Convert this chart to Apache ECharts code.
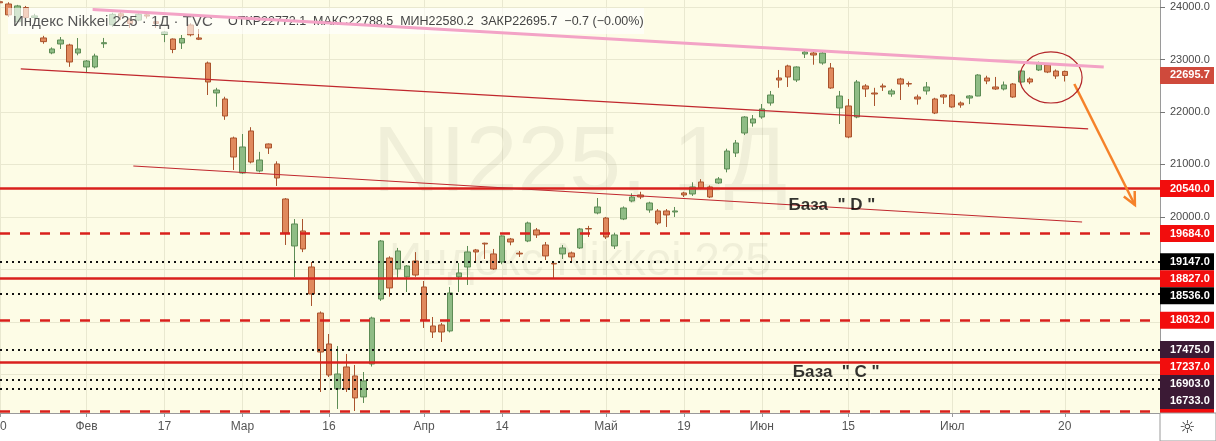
<!DOCTYPE html>
<html>
<head>
<meta charset="utf-8">
<script src="https://cdn.jsdelivr.net/npm/echarts@6/dist/echarts.min.js"></script>
<style>
  html, body { margin: 0; padding: 0; background: #fff; }
  #main { width: 1216px; height: 441px; }
</style>
</head>
<body>
<div id="main"></div>
<script>
// торговые дни 2020 (последние 11 — пустое место справа)
const dates = [
  '01-20','01-21','01-22','01-23','01-24','01-27','01-28','01-29','01-30','01-31',
  '02-03','02-04','02-05','02-06','02-07','02-10','02-12','02-13','02-14','02-17','02-18','02-19','02-20','02-21','02-25','02-26','02-27','02-28',
  '03-02','03-03','03-04','03-05','03-06','03-09','03-10','03-11','03-12','03-13','03-16','03-17','03-18','03-19','03-23','03-24','03-25','03-26','03-27','03-30','03-31',
  '04-01','04-02','04-03','04-06','04-07','04-08','04-09','04-10','04-13','04-14','04-15','04-16','04-17','04-20','04-21','04-22','04-23','04-24','04-27','04-28','04-30',
  '05-01','05-07','05-08','05-11','05-12','05-13','05-14','05-15','05-18','05-19','05-20','05-21','05-22','05-25','05-26','05-27','05-28','05-29',
  '06-01','06-02','06-03','06-04','06-05','06-08','06-09','06-10','06-11','06-12','06-15','06-16','06-17','06-18','06-19','06-22','06-23','06-24','06-25','06-26','06-29','06-30',
  '07-01','07-02','07-03','07-06','07-07','07-08','07-09','07-10','07-13','07-14','07-15','07-16','07-17','07-20',
  '07-21','07-22','07-27','07-28','07-29','07-30','07-31','08-03','08-04','08-05','08-06'
];

const opens = [
  24100,24057,23720,23990,23800,23410,23125,23295,23276,23123,
  22857,22857,23300,23660,23870,23760,23750,23850,23720,23480,23390,23314,23657,23410,22933,22362,22247,21504,
  20837,21638,20876,21390,21009,20342,19447,19733,19047,18170,17580,16723,17142,16971,16571,17199,18437,19218,19009,18857,19161,
  18666,17923,17942,17828,18857,19047,19371,19500,19295,19142,19580,19310,19542,19752,19466,19115,19295,19314,19409,19780,20076,
  19980,19447,19961,20304,20419,20133,20114,20114,20095,20457,20438,20666,20571,20647,20914,21218,21599,21790,
  21904,22171,22647,22876,22609,23104,23123,22933,22838,22076,22114,21904,22495,22361,22495,22342,22628,22540,22285,22400,22247,22323,
  22323,22171,22266,22304,22647,22476,22438,22533,22571,22628,22800,22895,22780,22772.1
];
const closes = [
  24080,23850,24020,23800,23830,23340,23200,23371,22952,23200,
  22971,23066,23320,23860,23827,23685,23861,23827,23687,23523,23190,23400,23470,23386,22571,22418,21923,21142,
  21333,21047,21085,21314,20742,19695,19866,19390,18532,17427,16989,17008,16723,16552,16876,18075,19542,18647,19352,19066,18894,
  18037,17808,17808,18552,18933,19333,19333,19485,19009,19638,19523,19295,19885,19657,19257,19104,19409,19238,19771,19771,20190,
  19618,19657,20171,20380,20380,20266,19885,20038,20114,20419,20571,20552,20380,20723,21256,21409,21904,21866,
  22057,22323,22609,22666,22857,23142,23085,23123,22457,22304,21523,22571,22438,22342,22476,22400,22533,22533,22247,22476,21980,22285,
  22095,22133,22304,22704,22590,22438,22514,22285,22780,22571,22933,22761,22685,22695.7
];
const lows = [
  24030,23810,23700,23760,23760,23300,23100,23200,22860,23080,
  22750,22830,23220,23620,23750,23600,23730,23780,23600,23330,23120,23200,23440,23370,22323,22100,21850,20895,
  20820,21020,20850,21200,20590,19466,18856,19330,18304,16665,16950,16342,16665,16303,16456,17150,18400,18480,18840,18570,18860,
  17885,17694,17618,17800,18571,18704,19142,19200,18990,19100,19460,19238,19520,19600,19180,18838,19200,19140,19390,19619,20050,
  19580,19390,19940,20280,20340,20080,19850,19809,20000,20380,20400,20530,20360,20630,20850,21142,21560,21720,
  21870,22120,22460,22476,22570,23028,22900,22900,22440,21771,21500,21880,22285,22114,22400,22290,22228,22480,22140,22330,21960,22152,
  22080,22080,22150,22300,22530,22420,22410,22270,22560,22530,22780,22740,22630,22580.2
];
const highs = [
  24120,24090,24040,24020,23870,23450,23230,23428,23300,23409,
  22990,23110,23410,23890,23900,23790,23880,23880,23750,23540,23400,23466,23690,23580,22960,22460,22290,21530,
  21580,21710,21240,21400,21060,20360,19960,19961,19140,18200,17770,17540,17390,17180,17046,18100,19560,19250,19410,19084,19330,
  18780,18094,17980,18666,19123,19447,19390,19510,19390,19650,19600,19352,19910,19790,19523,19140,19466,19340,19790,19830,20361,
  20000,19700,20200,20450,20480,20290,20150,20150,20190,20480,20660,20720,20600,20760,21300,21466,21920,21942,
  22152,22400,22800,22900,22870,23170,23140,23150,22933,22400,22247,22609,22530,22460,22540,22440,22650,22580,22330,22571,22270,22340,
  22340,22200,22320,22720,22690,22667,22580,22550,22800,22660,22960,22920,22810,22788.5
];

// подписи оси времени
const tickLabels = {
  '01-20': '20', '02-03': 'Фев', '02-17': '17', '03-02': 'Мар', '03-16': '16',
  '04-01': 'Апр', '04-14': '14', '05-01': 'Май', '05-19': '19', '06-01': 'Июн',
  '06-15': '15', '07-01': 'Июл', '07-20': '20'
};
const yTicks = [17000, 18000, 19000, 20000, 21000, 22000, 23000, 24000];
const yLabelTicks = [20000, 21000, 22000, 23000, 24000];

// горизонтальные уровни
const solidLevels = [20540, 18827, 17237];
const dashedLevels = [19684, 18032, 16303];
const blackDotLevels = [19147, 18536];
const purpleDotLevels = [17475, 16903, 16733];
const lastPrice = 22695.7;

// рисунки: [номер бара, цена]
const pinkLine = [[10.7, 23952], [127.5, 22857]];
const channelTop = [[2.4, 22819], [125.7, 21676]];
const channelBottom = [[15.4, 20971], [125.0, 19904]];
const arrowLine = [[124.1, 22533], [131.1, 20228]];
const circleMark = [121.4, 22657];
const circleRadius = [3.6, 486];
const baseD = [96.1, 20228];
const baseC = [96.6, 17046];

const header = 'Индекс Nikkei 225 · 1Д · TVC';
const ohlcText = 'ОТКР22772.1  МАКС22788.5  МИН22580.2  ЗАКР22695.7  −0.7 (−0.00%)';

const FONT = '"Liberation Sans", Arial, sans-serif';
const RED = '#d9201c';

const chart = echarts.init(document.getElementById('main'));

const candles = opens.map((o, i) => [o, closes[i], lows[i], highs[i]]);

const levelData = []
  .concat(solidLevels.map(v => ({ yAxis: v, lineStyle: { color: RED, width: 2.5, type: 'solid' } })))
  .concat(dashedLevels.map(v => ({ yAxis: v, lineStyle: { color: RED, width: 2.5, type: [10, 10] } })))
  .concat(blackDotLevels.concat(purpleDotLevels).map(v => ({ yAxis: v, lineStyle: { color: '#111', width: 2, type: [2, 4] } })));

function trend(data, color, width, z) {
  return {
    type: 'line', xAxisIndex: 1, yAxisIndex: 0, data: data, symbol: 'none',
    silent: true, z: z, lineStyle: { color: color, width: width }
  };
}
function note(name, pos) {
  return {
    type: 'scatter', xAxisIndex: 1, yAxisIndex: 0, symbolSize: 0, silent: true, z: 20,
    data: [{ name: name, value: pos }],
    label: { show: true, position: 'inside', formatter: '{b}', color: '#000',
      fontSize: 17, fontWeight: 'bold', fontFamily: FONT }
  };
}

const isTick = (i, v) => tickLabels[v] !== undefined;

const option = {
  animation: false,
  grid: { left: 0, right: 56, top: 0, bottom: 28, containLabel: false, outerBoundsMode: 'none',
    show: true, backgroundColor: '#fdfce6', borderWidth: 0 },
  xAxis: [
    {
      type: 'category', data: dates, boundaryGap: false,
      axisLine: { lineStyle: { color: '#9a9a9a' } },
      axisTick: { show: true, interval: isTick, length: 4, lineStyle: { color: '#9a9a9a' } },
      axisLabel: { interval: isTick, formatter: v => tickLabels[v] || '', color: '#555',
        fontSize: 12, fontFamily: FONT, margin: 8 },
      splitLine: { show: true, interval: isTick, lineStyle: { color: '#e9e8d0' } }
    },
    { type: 'value', min: 0, max: dates.length - 1, show: false }
  ],
  yAxis: {
    type: 'value', position: 'right', min: 16265, max: 24133, scale: true,
    axisLine: { show: true, onZero: false, lineStyle: { color: '#9a9a9a' } },
    axisTick: { show: true, length: 5, customValues: yTicks, lineStyle: { color: '#777' } },
    axisLabel: { customValues: yLabelTicks, formatter: v => v.toFixed(1), color: '#4a4a4a',
      fontSize: 11, fontFamily: FONT, margin: 10 },
    splitLine: { show: true, lineStyle: { color: '#e9e8d0' } }
  },
  series: [
    {
      type: 'candlestick', xAxisIndex: 0, yAxisIndex: 0, data: candles, barWidth: 6,
      itemStyle: { color: '#8fbc85', color0: '#e0895d', borderColor: '#5d8c55', borderColor0: '#a9532d', borderWidth: 1 },
      markLine: { silent: true, symbol: 'none', label: { show: false }, data: levelData }
    },
    trend(pinkLine, '#f3a3c6', 3, 60),
    trend(channelTop, '#c0272d', 1.2, 10),
    trend(channelBottom, '#c0272d', 1.2, 10),
    trend(arrowLine, '#f5822a', 2.5, 10),
    note('База  " D "', baseD),
    note('База  " C "', baseC)
  ]
};
chart.setOption(option);

// пиксели по данным
const px = p => chart.convertToPixel({ seriesIndex: 1 }, p);

// ярлыки цен на правой шкале
const tags = []
  .concat([{ price: lastPrice, bg: '#cf4a3c' }])
  .concat(solidLevels.concat(dashedLevels).map(v => ({ price: v, bg: '#f20d0d' })))
  .concat(blackDotLevels.map(v => ({ price: v, bg: '#000' })))
  .concat(purpleDotLevels.map(v => ({ price: v, bg: '#3b1a35' })));
tags.forEach(t => { t.y = px([0, t.price])[1]; });
tags.sort((a, b) => a.y - b.y);
const tagH = 17;
for (let i = 1; i < tags.length; i++) {
  if (tags[i].y < tags[i - 1].y + tagH) tags[i].y = tags[i - 1].y + tagH;
}
const gx = px([dates.length - 1, 0])[0];
const gBottom = px([0, 16265])[1];

const graphics = [];
// водяной знак
graphics.push({ type: 'text', z: 1, silent: true, x: gx / 2, y: 165,
  style: { text: 'NI225, 1Д', font: '93px ' + FONT, fill: 'rgba(90,90,60,0.08)', textAlign: 'center', textVerticalAlign: 'middle' } });
graphics.push({ type: 'text', z: 1, silent: true, x: gx / 2, y: 262,
  style: { text: 'Индекс Nikkei 225', font: '46px ' + FONT, fill: 'rgba(90,90,60,0.08)', textAlign: 'center', textVerticalAlign: 'middle' } });
// легенда
graphics.push({ type: 'rect', z: 50, silent: true, shape: { x: 8, y: 8, width: 636, height: 26 },
  style: { fill: 'rgba(255,255,255,0.62)' } });
graphics.push({ type: 'text', z: 51, silent: true, x: 13, y: 22,
  style: { text: header, font: '15px ' + FONT, fill: '#555', textVerticalAlign: 'middle' } });
graphics.push({ type: 'text', z: 51, silent: true, x: 228, y: 22,
  style: { text: ohlcText, font: '12.5px ' + FONT, fill: '#444', textVerticalAlign: 'middle' } });
// овал
const c0 = px(circleMark);
const c1 = px([circleMark[0] + circleRadius[0], circleMark[1] - circleRadius[1]]);
graphics.push({ type: 'ellipse', z: 30, silent: true,
  shape: { cx: c0[0], cy: c0[1], rx: c1[0] - c0[0], ry: c1[1] - c0[1] },
  style: { fill: 'none', stroke: '#b3262a', lineWidth: 1.2 } });
// наконечник стрелки
const a0 = px(arrowLine[0]), a1 = px(arrowLine[1]);
const ang = Math.atan2(a1[1] - a0[1], a1[0] - a0[0]);
const hl = 14, ha = 0.45;
graphics.push({ type: 'polyline', z: 30, silent: true,
  shape: { points: [
    [a1[0] - hl * Math.cos(ang - ha), a1[1] - hl * Math.sin(ang - ha)],
    a1,
    [a1[0] - hl * Math.cos(ang + ha), a1[1] - hl * Math.sin(ang + ha)]
  ] },
  style: { stroke: '#f5822a', lineWidth: 2.5, fill: 'none' } });
// ярлыки
tags.forEach(t => {
  graphics.push({ type: 'rect', z: 70, silent: true,
    shape: { x: gx, y: t.y - tagH / 2, width: 54, height: tagH }, style: { fill: t.bg } });
  graphics.push({ type: 'text', z: 71, silent: true, x: gx + 10, y: t.y,
    style: { text: t.price.toFixed(1), font: 'bold 11px ' + FONT, fill: '#fff', textVerticalAlign: 'middle' } });
});
// угол с шестерёнкой
graphics.push({ type: 'rect', z: 80, silent: true,
  shape: { x: gx, y: gBottom, width: 1216 - gx, height: 441 - gBottom },
  style: { fill: '#fff', stroke: '#9a9a9a', lineWidth: 1 } });
graphics.push({ type: 'text', z: 81, silent: true, x: gx + 27, y: gBottom + 15,
  style: { text: '☼', font: '18px "DejaVu Sans"', fill: '#333', textAlign: 'center', textVerticalAlign: 'middle' } });

chart.setOption({ graphic: graphics });
</script>
</body>
</html>
